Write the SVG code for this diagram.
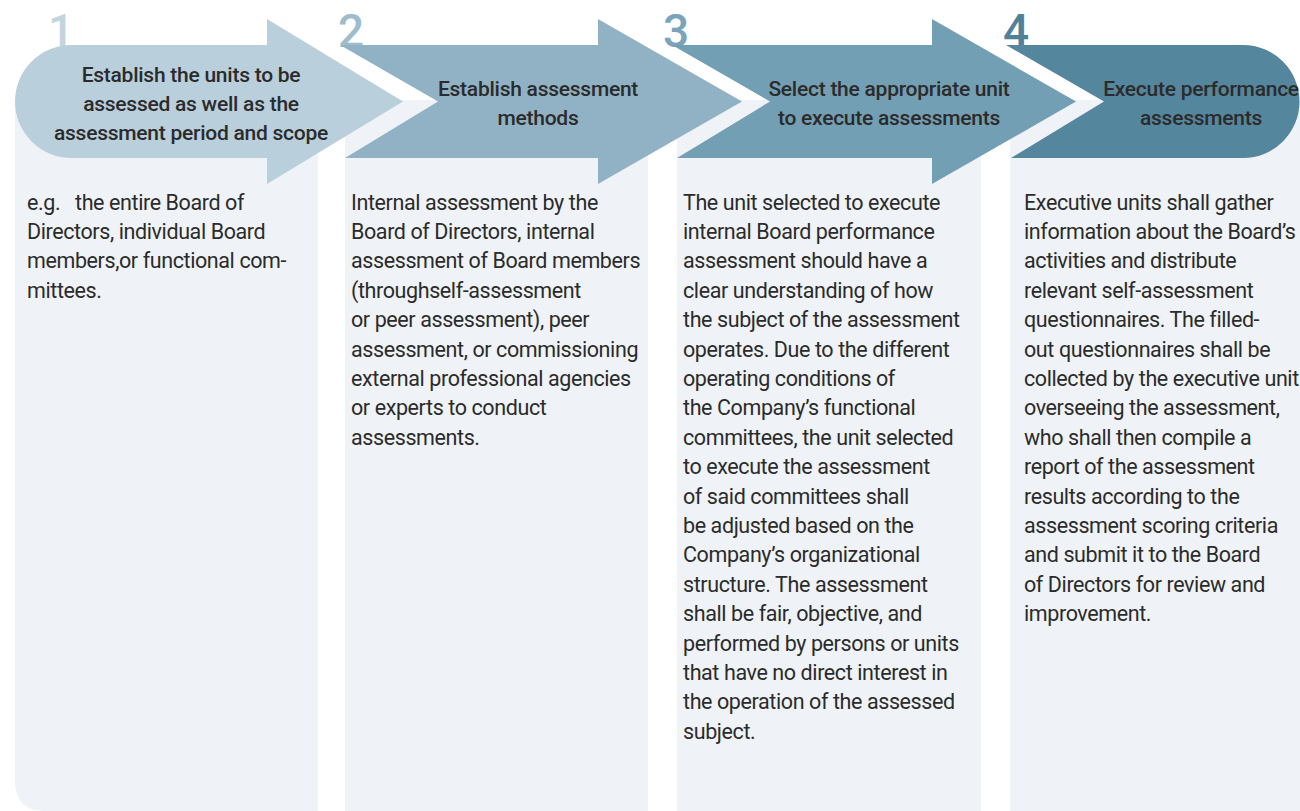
<svg xmlns="http://www.w3.org/2000/svg" width="1300" height="811" viewBox="0 0 1300 811">
<style>
.panel{fill:#eff3f7}
.num{font-family:Roboto,"Liberation Sans",sans-serif;font-size:46px;font-weight:500}
.title{font-family:Roboto,"Liberation Sans",sans-serif;font-size:21px;font-weight:500;fill:#2b2b2b;text-anchor:middle;letter-spacing:-0.25px}
.body{font-family:Roboto,"Liberation Sans",sans-serif;font-size:21.5px;fill:#2b2b2b;letter-spacing:-0.4px}
</style>
<rect width="1300" height="811" fill="#ffffff"/>
<g id="panels">
<path class="panel" d="M15,100 H318 V811 H45 Q15,811 15,781 Z"/>
<rect class="panel" x="345" y="100" width="303" height="711"/>
<rect class="panel" x="677" y="100" width="304" height="711"/>
<rect class="panel" x="1010" y="100" width="290" height="711"/>
</g>
<g id="step1">
<text class="num" x="48" y="47" fill="#c2d5df">1</text>
<path d="M71.5,45 H267 V19 L403,101.5 L267,184 V158 H71.5 A56.5,56.5 0 0 1 71.5,45 Z" fill="#b9cfdb"/>
<text class="title" x="191" y="82">Establish the units to be</text>
<text class="title" x="191" y="111">assessed as well as the</text>
<text class="title" x="191" y="140">assessment period and scope</text>
<text class="body" x="27" y="209.5" xml:space="preserve">e.g.   the entire Board of</text>
<text class="body" x="27" y="238.9">Directors, individual Board</text>
<text class="body" x="27" y="268.3">members,or functional com-</text>
<text class="body" x="27" y="297.7">mittees.</text>
</g>
<g id="step2">
<text class="num" x="338" y="47" fill="#9dbdcd">2</text>
<path d="M340,45 H598 V19 L742,101.5 L598,184 V158 H345 L438,101.5 Z" fill="#90b2c4"/>
<text class="title" x="538" y="96">Establish assessment</text>
<text class="title" x="538" y="125">methods</text>
<text class="body" x="351" y="209.5">Internal assessment by the</text>
<text class="body" x="351" y="238.9">Board of Directors, internal</text>
<text class="body" x="351" y="268.3">assessment of Board members</text>
<text class="body" x="351" y="297.7">(throughself-assessment</text>
<text class="body" x="351" y="327.1">or peer assessment), peer</text>
<text class="body" x="351" y="356.5">assessment, or commissioning</text>
<text class="body" x="351" y="385.9">external professional agencies</text>
<text class="body" x="351" y="415.3">or experts to conduct</text>
<text class="body" x="351" y="444.7">assessments.</text>
</g>
<g id="step3">
<text class="num" x="663" y="47" fill="#7aa4b9">3</text>
<path d="M672,45 H932 V19 L1076,101.5 L932,184 V158 H677 L770,101.5 Z" fill="#739fb4"/>
<text class="title" x="889" y="96">Select the appropriate unit</text>
<text class="title" x="889" y="125">to execute assessments</text>
<text class="body" x="683" y="209.5">The unit selected to execute</text>
<text class="body" x="683" y="238.9">internal Board performance</text>
<text class="body" x="683" y="268.3">assessment should have a</text>
<text class="body" x="683" y="297.7">clear understanding of how</text>
<text class="body" x="683" y="327.1">the subject of the assessment</text>
<text class="body" x="683" y="356.5">operates. Due to the different</text>
<text class="body" x="683" y="385.9">operating conditions of</text>
<text class="body" x="683" y="415.3">the Company’s functional</text>
<text class="body" x="683" y="444.7">committees, the unit selected</text>
<text class="body" x="683" y="474.1">to execute the assessment</text>
<text class="body" x="683" y="503.5">of said committees shall</text>
<text class="body" x="683" y="532.9">be adjusted based on the</text>
<text class="body" x="683" y="562.3">Company’s organizational</text>
<text class="body" x="683" y="591.7">structure. The assessment</text>
<text class="body" x="683" y="621.1">shall be fair, objective, and</text>
<text class="body" x="683" y="650.5">performed by persons or units</text>
<text class="body" x="683" y="679.9">that have no direct interest in</text>
<text class="body" x="683" y="709.3">the operation of the assessed</text>
<text class="body" x="683" y="738.7">subject.</text>
</g>
<g id="step4">
<text class="num" x="1003" y="47" fill="#4f8199" font-weight="700">4</text>
<path d="M1006,45 H1243 A56.5,56.5 0 0 1 1243,158 H1011 L1104,101.5 Z" fill="#54869e"/>
<text class="title" x="1201" y="96">Execute performance</text>
<text class="title" x="1201" y="125">assessments</text>
<text class="body" x="1024" y="209.5">Executive units shall gather</text>
<text class="body" x="1024" y="238.9">information about the Board’s</text>
<text class="body" x="1024" y="268.3">activities and distribute</text>
<text class="body" x="1024" y="297.7">relevant self-assessment</text>
<text class="body" x="1024" y="327.1">questionnaires. The filled-</text>
<text class="body" x="1024" y="356.5">out questionnaires shall be</text>
<text class="body" x="1024" y="385.9">collected by the executive unit</text>
<text class="body" x="1024" y="415.3">overseeing the assessment,</text>
<text class="body" x="1024" y="444.7">who shall then compile a</text>
<text class="body" x="1024" y="474.1">report of the assessment</text>
<text class="body" x="1024" y="503.5">results according to the</text>
<text class="body" x="1024" y="532.9">assessment scoring criteria</text>
<text class="body" x="1024" y="562.3">and submit it to the Board</text>
<text class="body" x="1024" y="591.7">of Directors for review and</text>
<text class="body" x="1024" y="621.1">improvement.</text>
</g>
<g id="connectors"></g>
</svg>
